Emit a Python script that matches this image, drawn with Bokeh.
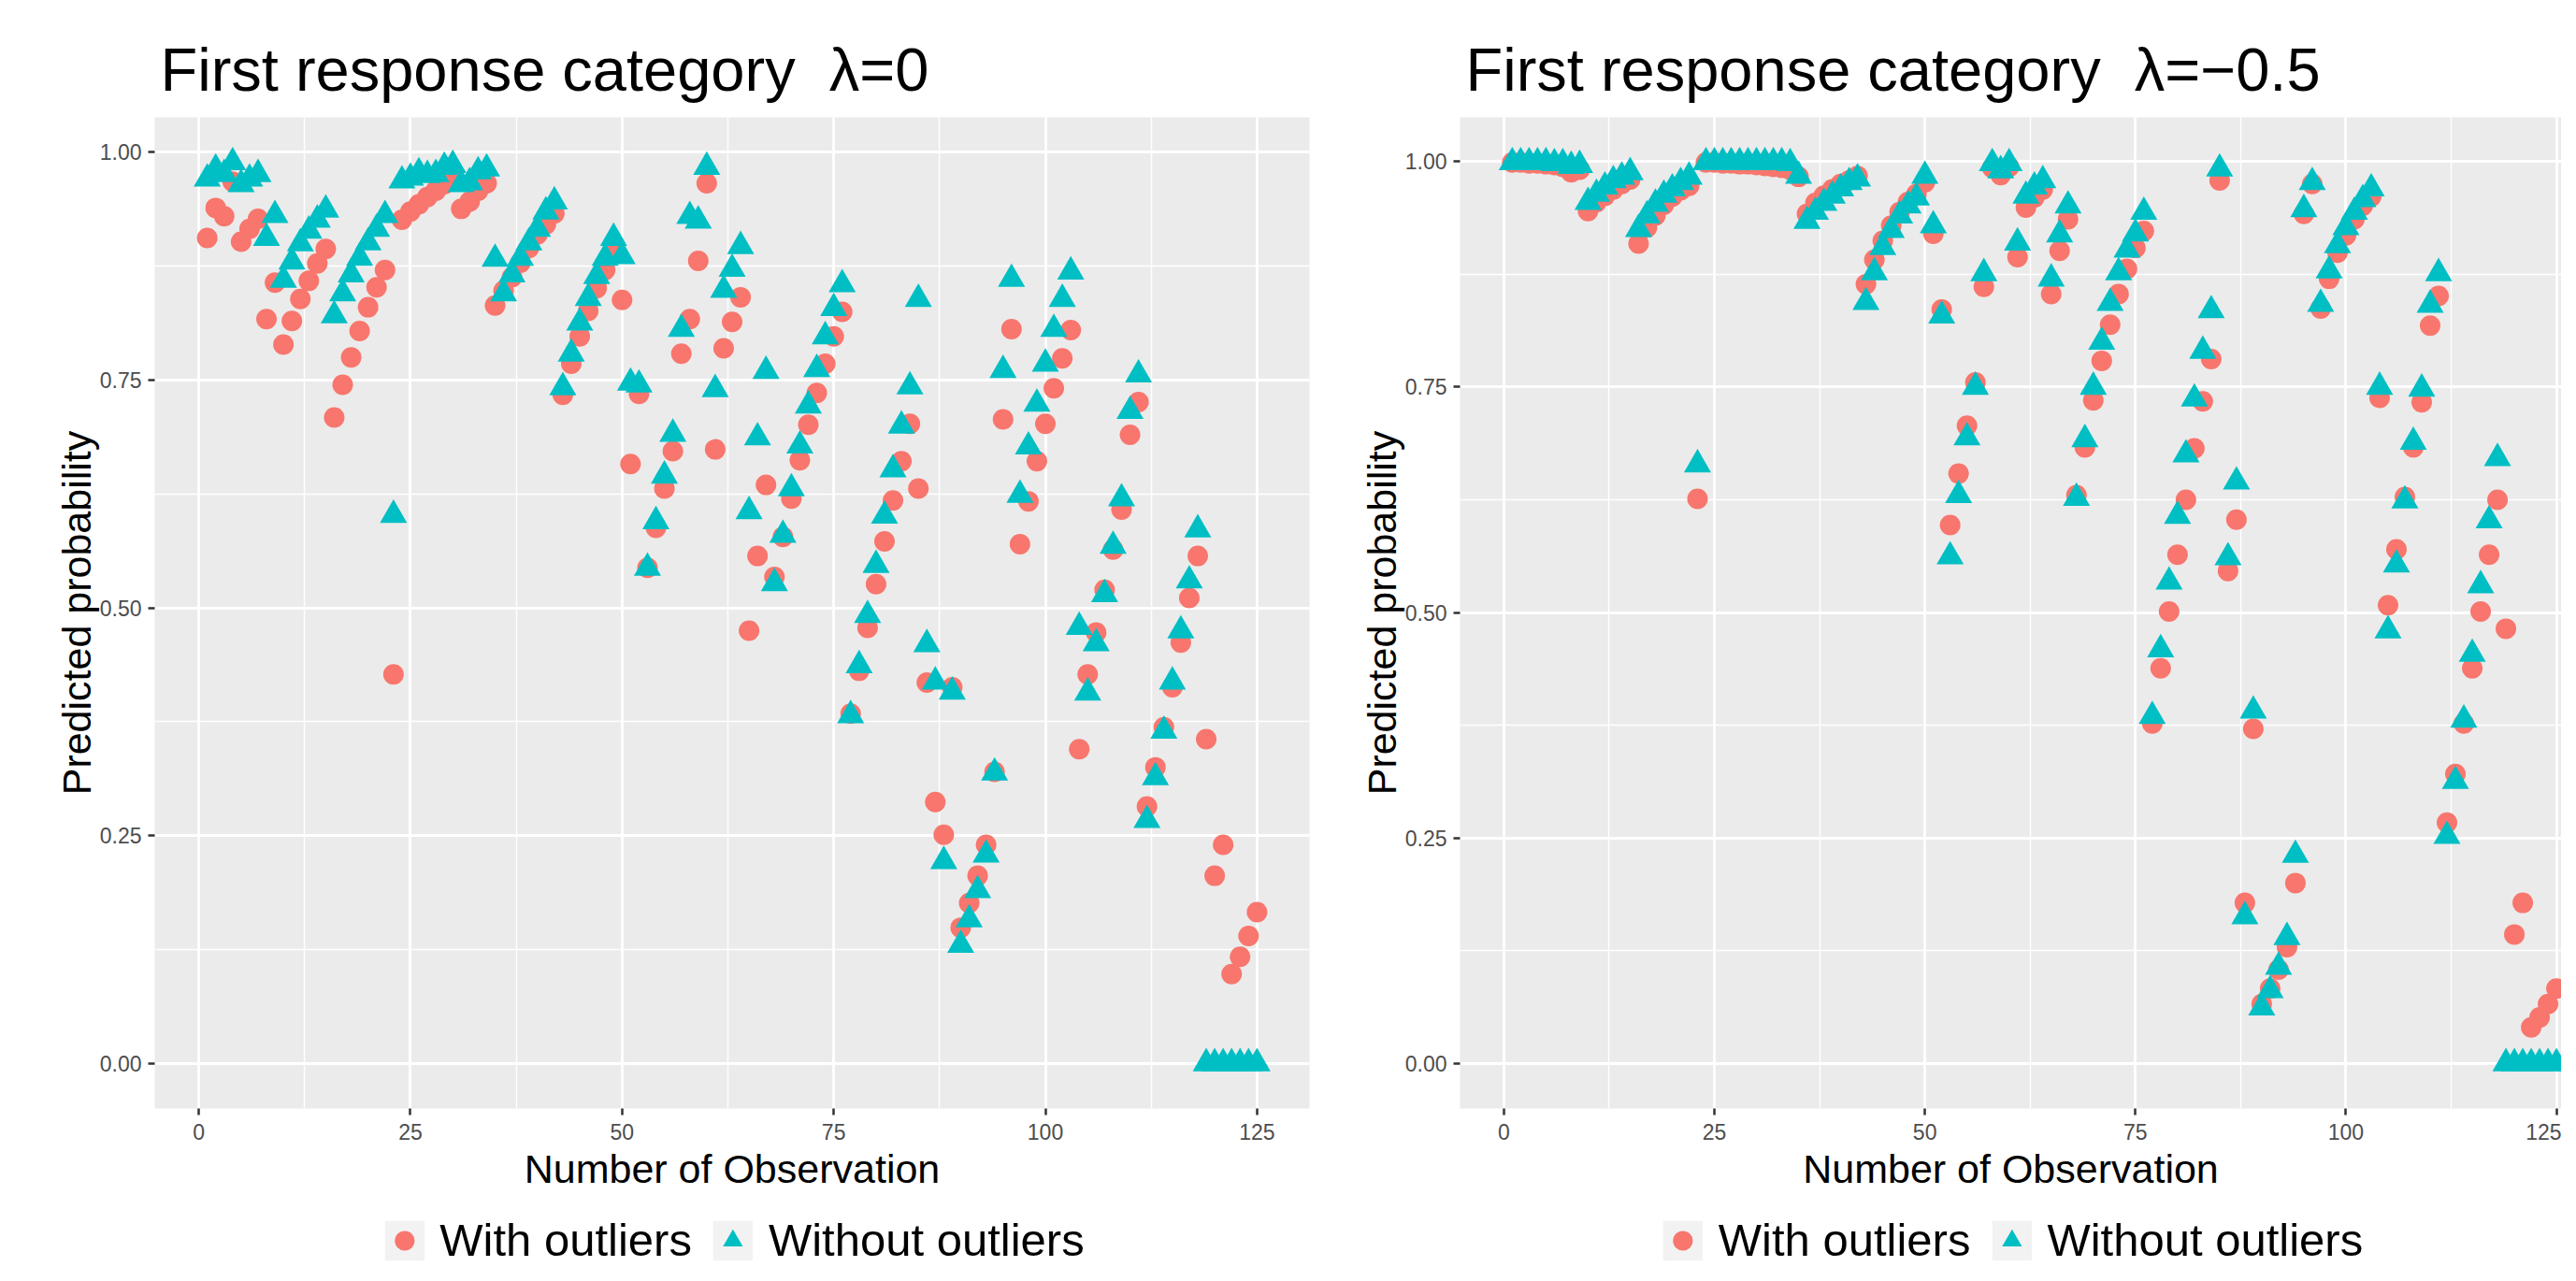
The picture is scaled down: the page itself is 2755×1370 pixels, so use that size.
from bokeh.plotting import figure
from bokeh.models import Range1d, FixedTicker, NumeralTickFormatter, Legend, LegendItem
from bokeh.layouts import row, column
from bokeh.embed import file_html
from bokeh.resources import INLINE

FONT = "Liberation Sans"
RED = "#F8766D"
TEAL = "#00BFC4"

obs = list(range(1, 126))

left_with = [
    0.906, 0.939, 0.930, 0.968, 0.902, 0.916, 0.927, 0.817, 0.857, 0.789,
    0.815, 0.839, 0.859, 0.878, 0.894, 0.709, 0.745, 0.775, 0.804, 0.830,
    0.852, 0.871, 0.427, 0.926, 0.935, 0.943, 0.951, 0.958, 0.965, 0.970,
    0.938, 0.946, 0.958, 0.966, 0.832, 0.848, 0.863, 0.879, 0.895, 0.910,
    0.921, 0.933, 0.734, 0.768, 0.798, 0.826, 0.851, 0.871, 0.893, 0.838,
    0.658, 0.735, 0.544, 0.588, 0.631, 0.672, 0.779, 0.817, 0.881, 0.966,
    0.674, 0.785, 0.814, 0.841, 0.475, 0.557, 0.635, 0.534, 0.578, 0.620,
    0.662, 0.701, 0.736, 0.768, 0.798, 0.825, 0.384, 0.431, 0.478, 0.526,
    0.573, 0.618, 0.661, 0.702, 0.631, 0.418, 0.287, 0.251, 0.413, 0.149,
    0.176, 0.206, 0.240, 0.320, 0.707, 0.806, 0.570, 0.617, 0.661, 0.702,
    0.741, 0.774, 0.805, 0.345, 0.427, 0.473, 0.520, 0.564, 0.608, 0.690,
    0.726, 0.282, 0.325, 0.369, 0.413, 0.462, 0.511, 0.557, 0.356, 0.206,
    0.240, 0.098, 0.117, 0.140, 0.166,
]
left_without = [
    0.971, 0.982, 0.976, 0.989, 0.965, 0.971, 0.976, 0.906, 0.931, 0.860,
    0.880, 0.900, 0.914, 0.926, 0.937, 0.821, 0.845, 0.866, 0.884, 0.901,
    0.916, 0.931, 0.602, 0.969, 0.972, 0.978, 0.975, 0.976, 0.984, 0.986,
    0.965, 0.967, 0.979, 0.982, 0.883, 0.845, 0.866, 0.884, 0.901, 0.916,
    0.935, 0.946, 0.742, 0.779, 0.813, 0.840, 0.864, 0.884, 0.906, 0.886,
    0.747, 0.745, 0.544, 0.595, 0.645, 0.691, 0.806, 0.930, 0.925, 0.984,
    0.740, 0.849, 0.872, 0.897, 0.606, 0.687, 0.760, 0.527, 0.580, 0.631,
    0.678, 0.722, 0.762, 0.798, 0.829, 0.855, 0.382, 0.437, 0.492, 0.547,
    0.601, 0.652, 0.700, 0.743, 0.839, 0.460, 0.419, 0.222, 0.408, 0.130,
    0.158, 0.190, 0.229, 0.319, 0.761, 0.861, 0.624, 0.677, 0.724, 0.768,
    0.806, 0.839, 0.869, 0.479, 0.407, 0.461, 0.515, 0.568, 0.620, 0.716,
    0.756, 0.267, 0.314, 0.365, 0.419, 0.475, 0.530, 0.586, 0.0, 0.0,
    0.0, 0.0, 0.0, 0.0, 0.0,
]
right_with = [
    0.999, 0.999, 0.998, 0.998, 0.997, 0.996, 0.994, 0.988, 0.991, 0.945,
    0.955, 0.962, 0.969, 0.975, 0.980, 0.909, 0.927, 0.940, 0.952, 0.961,
    0.968, 0.973, 0.626, 0.999, 0.999, 0.998, 0.998, 0.997, 0.997, 0.996,
    0.995, 0.994, 0.993, 0.991, 0.983, 0.942, 0.954, 0.962, 0.969, 0.975,
    0.979, 0.984, 0.864, 0.891, 0.912, 0.929, 0.944, 0.955, 0.964, 0.977,
    0.920, 0.836, 0.597, 0.654, 0.707, 0.755, 0.861, 0.993, 0.985, 0.994,
    0.894, 0.949, 0.960, 0.969, 0.853, 0.901, 0.936, 0.630, 0.683, 0.735,
    0.779, 0.819, 0.853, 0.881, 0.904, 0.923, 0.377, 0.438, 0.501, 0.564,
    0.625, 0.682, 0.734, 0.781, 0.979, 0.546, 0.603, 0.178, 0.371, 0.066,
    0.083, 0.104, 0.129, 0.200, 0.942, 0.975, 0.837, 0.870, 0.899, 0.918,
    0.936, 0.951, 0.961, 0.738, 0.508, 0.570, 0.628, 0.683, 0.733, 0.818,
    0.851, 0.267, 0.321, 0.377, 0.438, 0.501, 0.564, 0.625, 0.482, 0.143,
    0.178, 0.040, 0.051, 0.066, 0.083,
]
right_without = [
    0.999, 0.999, 0.999, 0.999, 0.999, 0.998, 0.998, 0.995, 0.996, 0.955,
    0.964, 0.972, 0.979, 0.983, 0.988, 0.925, 0.940, 0.953, 0.963, 0.970,
    0.977, 0.983, 0.664, 0.999, 0.999, 0.999, 0.999, 0.999, 0.999, 0.999,
    0.999, 0.999, 0.999, 0.998, 0.984, 0.934, 0.944, 0.954, 0.962, 0.970,
    0.977, 0.981, 0.844, 0.877, 0.905, 0.924, 0.940, 0.951, 0.960, 0.984,
    0.929, 0.829, 0.562, 0.630, 0.694, 0.750, 0.876, 0.998, 0.990, 0.998,
    0.910, 0.962, 0.972, 0.979, 0.870, 0.919, 0.951, 0.627, 0.692, 0.750,
    0.800, 0.843, 0.877, 0.902, 0.920, 0.944, 0.385, 0.459, 0.534, 0.607,
    0.675, 0.737, 0.790, 0.835, 0.992, 0.561, 0.645, 0.163, 0.391, 0.062,
    0.081, 0.107, 0.140, 0.231, 0.947, 0.977, 0.842, 0.879, 0.907, 0.927,
    0.944, 0.958, 0.970, 0.750, 0.480, 0.553, 0.624, 0.689, 0.748, 0.841,
    0.876, 0.252, 0.313, 0.381, 0.454, 0.530, 0.602, 0.671, 0.0, 0.0,
    0.0, 0.0, 0.0, 0.0, 0.0,
]

x_ticks = [0, 25, 50, 75, 100, 125]
x_minor = [12.5, 37.5, 62.5, 87.5, 112.5]
y_ticks = [0.0, 0.25, 0.5, 0.75, 1.0]
y_minor = [0.125, 0.375, 0.625, 0.875]

titles = ["First response category \u00a0\u03bb=0", "First response category \u00a0\u03bb=\u22120.5"]
series_labels = ["With outliers", "Without outliers"]


def make_panel(title, y_with, y_without, width, border_left, border_right, x_end):
    allv = y_with + y_without
    lo, hi = min(allv), max(allv)
    pad = 0.05 * (hi - lo)
    p = figure(width=width, height=1276, output_backend="svg", toolbar_location=None,
               x_range=Range1d(-5.2, x_end), y_range=Range1d(lo - pad, hi + pad),
               min_border_left=border_left, min_border_right=border_right,
               min_border_top=125, min_border_bottom=87)
    p.title.text = title
    p.title.text_font = FONT
    p.title.text_font_size = "65px"
    p.title.text_font_style = "normal"
    p.title.text_color = "black"
    p.title.standoff = 29
    p.title.offset = 6
    p.background_fill_color = "#EBEBEB"
    p.border_fill_color = "white"
    p.outline_line_color = None

    p.xaxis.ticker = FixedTicker(ticks=x_ticks, minor_ticks=x_minor)
    p.yaxis.ticker = FixedTicker(ticks=y_ticks, minor_ticks=y_minor)
    p.yaxis.formatter = NumeralTickFormatter(format="0.00")
    p.xaxis.axis_label = "Number of Observation"
    p.yaxis.axis_label = "Predicted probability"
    for ax in (p.xaxis, p.yaxis):
        ax.axis_line_color = None
        ax.major_tick_line_color = "#333333"
        ax.major_tick_line_width = 2.5
        ax.major_tick_out = 7
        ax.major_tick_in = 0
        ax.minor_tick_line_color = None
        ax.major_label_text_font = FONT
        ax.major_label_text_font_size = "23px"
        ax.major_label_text_color = "#4D4D4D"
        ax.axis_label_text_font = FONT
        ax.axis_label_text_font_size = "43px"
        ax.axis_label_text_font_style = "normal"
        ax.axis_label_text_color = "black"
    p.xaxis.major_label_standoff = 9
    p.xaxis.axis_label_standoff = 4
    p.yaxis.major_label_standoff = 7
    p.yaxis.axis_label_standoff = -2

    for g in (p.xgrid, p.ygrid):
        g.grid_line_color = "white"
        g.grid_line_width = 2.8
        g.minor_grid_line_color = "white"
        g.minor_grid_line_width = 1.4

    p.scatter(obs, y_with, marker="circle", size=22, fill_color=RED, line_color=None)
    p.scatter(obs, y_without, marker="triangle", size=29, fill_color=TEAL, line_color=None)
    return p


def make_legend(y_with, y_without, width, border_left, border_right):
    # the legend strip: its renderers hold the series but the view range lies away from them,
    # so that only the legend keys are seen
    lf = figure(width=width, height=78, output_backend="svg", toolbar_location=None,
                x_axis_type=None, y_axis_type=None,
                x_range=Range1d(1000, 1001), y_range=Range1d(1000, 1001),
                min_border_left=border_left, min_border_right=border_right,
                min_border_top=14, min_border_bottom=0)
    lf.outline_line_color = None
    lf.background_fill_color = "white"
    lf.border_fill_color = "white"
    key_bg = lf.quad(left=obs, right=obs, top=y_with, bottom=y_with,
                     fill_color="#F2F2F2", line_color=None)
    r_with = lf.scatter(obs, y_with, marker="circle", size=22, fill_color=RED, line_color=None)
    r_without = lf.scatter(obs, y_without, marker="triangle", size=29, fill_color=TEAL, line_color=None)
    legend = Legend(items=[LegendItem(label=series_labels[0], renderers=[key_bg, r_with]),
                           LegendItem(label=series_labels[1], renderers=[key_bg, r_without])],
                    orientation="horizontal", location="bottom_center",
                    glyph_width=53, glyph_height=53, label_standoff=12, spacing=17,
                    padding=0, margin=0, border_line_color=None, background_fill_alpha=0,
                    label_text_font=FONT, label_text_font_size="49px", label_text_color="black")
    lf.add_layout(legend, "center")
    return lf


p1 = make_panel(titles[0], left_with, left_without, 1420, 165, 20, 131.2)
p2 = make_panel(titles[1], right_with, right_without, 1319, 141, 0, 125.6)
l1 = make_legend(left_with, left_without, 1420, 165, 20)
l2 = make_legend(right_with, right_without, 1319, 141, 0)

layout = column(row(p1, p2), row(l1, l2))
open("out.html", "w").write(file_html(layout, INLINE))
